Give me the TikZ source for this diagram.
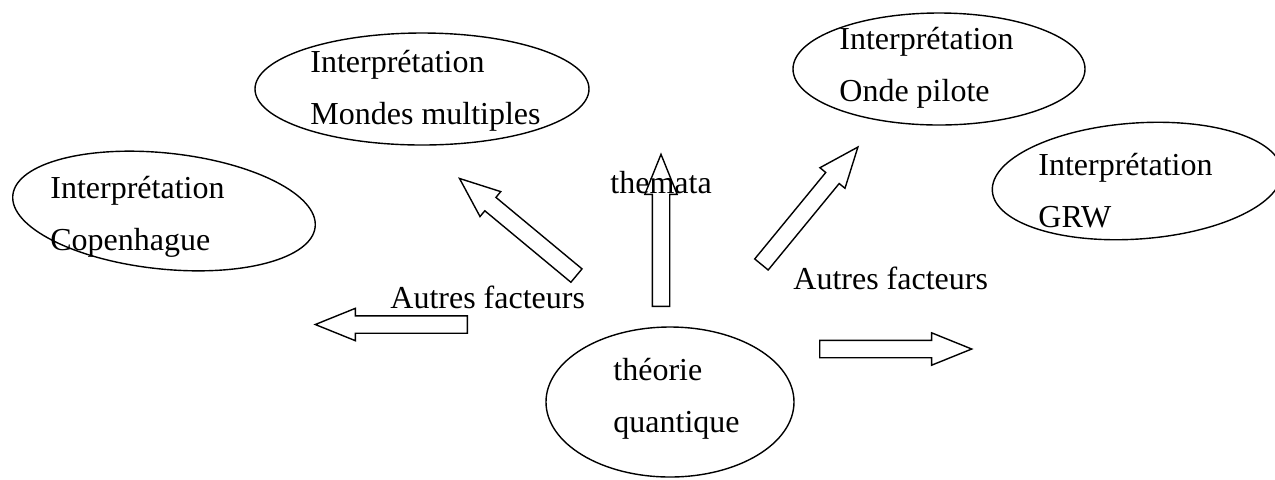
\documentclass[tikz,border=0pt]{standalone}
\usepackage{fontspec}
\setmainfont{Liberation Serif}
\usetikzlibrary{shapes.geometric,shapes.arrows}
\tikzset{
	bubble/.style={ellipse, draw, line width=0.7pt, inner sep=0pt},
	txt/.style={align=left, anchor=base west, inner sep=0pt, font=\fontsize{16}{26}\selectfont},
	blockarrow/.style={single arrow, draw, line width=0.7pt, inner xsep=0pt, inner ysep=4pt,
		minimum height=76pt, minimum width=15.5pt, single arrow head extend=3.75pt,
		single arrow tip angle=44, anchor=tail}
}

\begin{document}
\begin{tikzpicture}[x=0.5pt, y=-0.5pt]
	\useasboundingbox (0,0) rectangle (1275,479);
	% ellipses
	\node[bubble, minimum width=152pt, minimum height=58pt, rotate=-6] (cop) at (164,211) {};
	\node[bubble, minimum width=167pt, minimum height=56pt] (mondes) at (422,89) {};
	\node[bubble, minimum width=146pt, minimum height=56pt] (onde) at (939,69) {};
	\node[bubble, minimum width=145pt, minimum height=58pt, rotate=4] (grw) at (1137,181) {};
	\node[bubble, minimum width=124pt, minimum height=75pt] (theo) at (670,402) {};
	% texts
	\node[txt] (coptxt) at (50,250) {Interprétation\\Copenhague};
	\node[txt] (mondestxt) at (310,124) {Interprétation\\Mondes multiples};
	\node[txt] (ondetxt) at (839,101) {Interprétation\\Onde pilote};
	\node[txt] (grwtxt) at (1038,227) {Interprétation\\GRW};
	\node[txt] (theotxt) at (613,432) {théorie\\quantique};
	\node[txt] (themata) at (610,193) {themata};
	\node[txt] (autresL) at (390,308) {Autres facteurs};
	\node[txt] (autresR) at (793,289) {Autres facteurs};
	% arrows
	\node[blockarrow, rotate=180] (arrL) at (468,324.5) {};
	\node[blockarrow, rotate=140.3] (arrUL) at (577,276) {};
	\node[blockarrow, rotate=90] (arrU) at (661,307) {};
	\node[blockarrow, rotate=50.6] (arrUR) at (761,265) {};
	\node[blockarrow] (arrR) at (819,349) {};
\end{tikzpicture}
\end{document}
